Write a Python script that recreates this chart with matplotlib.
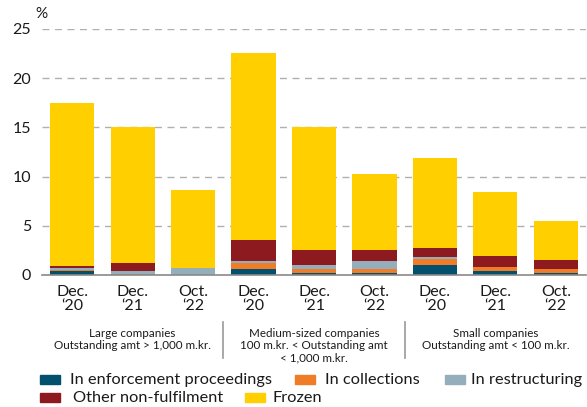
import matplotlib.pyplot as plt
from matplotlib.patches import Rectangle

plt.rcParams['font.family'] = ['Lato', 'DejaVu Sans']

# Data (percent)
tick_labels = ['Dec.\n\u201820', 'Dec.\n\u201821', 'Oct.\n\u201822'] * 3
enforcement = [0.37, 0.0, 0.0, 0.58, 0.24, 0.24, 1.05, 0.37, 0.24]
collections = [0.10, 0.10, 0.0, 0.61, 0.40, 0.40, 0.61, 0.40, 0.40]
restructuring = [0.27, 0.27, 0.75, 0.20, 0.40, 0.81, 0.13, 0.0, 0.0]
other = [0.20, 0.80, 0.0, 2.13, 1.46, 1.05, 0.98, 1.12, 0.85]
totals = [17.5, 15.0, 8.6, 22.6, 15.0, 10.3, 11.9, 8.4, 5.5]

group_labels = [
    'Large companies\nOutstanding amt > 1,000 m.kr.',
    'Medium-sized companies\n100 m.kr. < Outstanding amt\n< 1,000 m.kr.',
    'Small companies\nOutstanding amt < 100 m.kr.',
]

series_names = ['In enforcement proceedings', 'In collections', 'In restructuring',
                'Other non-fulfilment', 'Frozen']
colors = ['#00506e', '#f07c28', '#95aebb', '#8d1a1f', '#ffcf00']

frozen = [t - e - c - r - o for t, e, c, r, o in
          zip(totals, enforcement, collections, restructuring, other)]
series = [enforcement, collections, restructuring, other, frozen]

fig = plt.figure(figsize=(5.87, 4.07), dpi=100)
ax = fig.add_axes([42 / 587, 1 - 275 / 407, 544 / 587, 246 / 407])

x = list(range(len(totals)))
bottom = [0.0] * len(x)
for vals, col in zip(series, colors):
    ax.bar(x, vals, bottom=bottom, width=0.73, color=col, zorder=3)
    bottom = [b + v for b, v in zip(bottom, vals)]

ax.set_xlim(-0.5, 8.5)
ax.set_ylim(0, 25)
ax.set_yticks([0, 5, 10, 15, 20, 25])
ax.yaxis.grid(True, linestyle=(0, (5, 4)), color='#b0b0b0', linewidth=1.0, zorder=0)
ax.set_axisbelow(True)
for s in ['top', 'right', 'left']:
    ax.spines[s].set_visible(False)
ax.spines['bottom'].set_color('#8a8a8a')
ax.spines['bottom'].set_linewidth(1.2)
ax.spines['bottom'].set_zorder(4)
ax.tick_params(axis='y', length=0, pad=8, labelsize=11.5, labelcolor='#1a1a1a')
ax.tick_params(axis='x', length=0, pad=7, labelsize=11.5, labelcolor='#1a1a1a')
ax.set_xticks(x)
ax.set_xticklabels(tick_labels, linespacing=1.0)

ax.text(-0.012, 1.06, '%', transform=ax.transAxes, ha='left', va='center',
        fontsize=11, color='#1a1a1a')

# group labels and separators
for i, lab in enumerate(group_labels):
    ax.text(3 * i + 1, -5.4, lab, ha='center', va='top', fontsize=8.4,
            color='#1a1a1a', linespacing=1.12, clip_on=False)
for xs in [2.5, 5.5]:
    ax.plot([xs, xs], [-4.8, -8.4], color='#999999', linewidth=1.2, clip_on=False)

# legend
legend_pos = [(40, 380, 70), (295, 380, 325), (445, 380, 471),
              (40, 398, 73), (245, 398, 273)]
for (px, py, tx), name, col in zip(legend_pos, series_names, colors):
    fig.patches.append(Rectangle((px / 587, 1 - (py + 4) / 407), 20 / 587, 9 / 407,
                                 transform=fig.transFigure, color=col))
    fig.text(tx / 587, 1 - py / 407, name, ha='left', va='center', fontsize=11.8,
             color='#1a1a1a')

fig.savefig('out.png', dpi=100)
